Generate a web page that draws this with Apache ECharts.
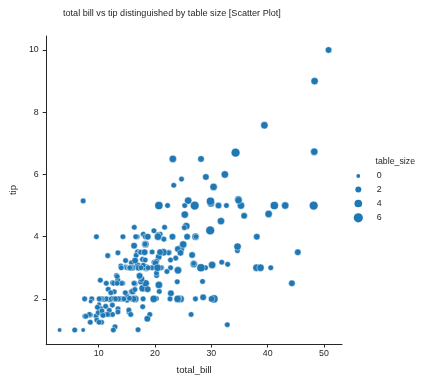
<!DOCTYPE html>
<html>
<head>
<meta charset="utf-8">
<script src="https://cdn.jsdelivr.net/npm/echarts@6/dist/echarts.min.js"></script>
<style>
html,body{margin:0;padding:0;background:#fff;}
#chart{width:430px;height:381px;}
</style>
</head>
<body>
<div id="chart"></div>
<script>
const totalBill = [16.99,10.34,21.01,23.68,24.59,25.29,8.77,26.88,15.04,14.78,10.27,35.26,15.42,18.43,14.83,21.58,10.33,16.29,16.97,20.65,17.92,20.29,15.77,39.42,19.82,17.81,13.37,12.69,21.70,19.65,9.55,18.35,15.06,20.69,17.78,24.06,16.31,16.93,18.69,31.27,16.04,17.46,13.94,9.68,30.40,18.29,22.23,32.40,28.55,18.04,12.54,10.29,34.81,9.94,25.56,19.49,38.01,26.41,11.24,48.27,20.29,13.81,11.02,18.29,17.59,20.08,16.45,3.07,20.23,15.01,12.02,17.07,26.86,25.28,14.73,10.51,17.92,27.20,22.76,17.29,19.44,16.66,10.07,32.68,15.98,34.83,13.03,18.28,24.71,21.16,28.97,22.49,5.75,16.32,22.75,40.17,27.28,12.03,21.01,12.46,11.35,15.38,44.30,22.42,20.92,15.36,20.49,25.21,18.24,14.31,14.00,7.25,38.07,23.95,25.71,17.31,29.93,10.65,12.43,24.08,11.69,13.42,14.26,15.95,12.48,29.80,8.52,14.52,11.38,22.82,19.08,20.27,11.17,12.26,18.26,8.51,10.33,14.15,16.00,13.16,17.47,34.30,41.19,27.05,16.43,8.35,18.64,11.87,9.78,7.51,14.07,13.13,17.26,24.55,19.77,29.85,48.17,25.00,13.39,16.49,21.50,12.66,16.21,13.81,17.51,24.52,20.76,31.71,10.59,10.63,50.81,15.81,7.25,31.85,16.82,32.90,17.89,14.48,9.60,34.63,34.65,23.33,45.35,23.17,40.55,20.69,20.90,30.46,18.15,23.10,15.69,19.81,28.44,15.48,16.58,7.56,10.34,43.11,13.00,13.51,18.71,12.74,13.00,16.40,20.53,16.47,26.59,38.73,24.27,12.76,30.06,25.89,48.33,13.27,28.17,12.90,28.15,11.59,7.74,30.14,12.16,13.42,8.58,15.98,13.42,16.27,10.09,20.45,13.28,22.12,24.01,15.69,11.61,10.77,15.53,10.07,12.60,32.83,35.83,29.03,27.18,22.67,17.82,18.78];
const tipValues = [1.01,1.66,3.50,3.31,3.61,4.71,2.00,3.12,1.96,3.23,1.71,5.00,1.57,3.00,3.02,3.92,1.67,3.71,3.50,3.35,4.08,2.75,2.23,7.58,3.18,2.34,2.00,2.00,4.30,3.00,1.45,2.50,3.00,2.45,3.27,3.60,2.00,3.07,2.31,5.00,2.24,2.54,3.06,1.32,5.60,3.00,5.00,6.00,2.05,3.00,2.50,2.60,5.20,1.56,4.34,3.51,3.00,1.50,1.76,6.73,3.21,2.00,1.98,3.76,2.64,3.15,2.47,1.00,2.01,2.09,1.97,3.00,3.14,5.00,2.20,1.25,3.08,4.00,3.00,2.71,3.00,3.40,1.83,5.00,2.03,5.17,2.00,4.00,5.85,3.00,3.00,3.50,1.00,4.30,3.25,4.73,4.00,1.50,3.00,1.50,2.50,3.00,2.50,3.48,4.08,1.64,4.06,4.29,3.76,4.00,3.00,1.00,4.00,2.55,4.00,3.50,5.07,1.50,1.80,2.92,2.31,1.68,2.50,2.00,2.52,4.20,1.48,2.00,2.00,2.18,1.50,2.83,1.50,2.00,3.25,1.25,2.00,2.00,2.00,2.75,3.50,6.70,5.00,5.00,2.30,1.50,1.36,1.63,1.73,2.00,2.50,2.00,2.74,2.00,2.00,5.14,5.00,3.75,2.61,2.00,3.50,2.50,2.00,2.00,3.00,3.48,2.24,4.50,1.61,2.00,10.00,3.16,5.15,3.18,4.00,3.11,2.00,2.00,4.00,3.55,3.68,5.65,3.50,6.50,3.00,5.00,3.50,2.00,3.50,4.00,1.50,4.19,2.56,2.02,4.00,1.44,2.00,5.00,2.00,2.00,4.00,2.01,2.00,2.50,4.00,3.23,3.41,3.00,2.03,2.23,2.00,5.16,9.00,2.50,6.50,1.10,3.00,1.50,1.44,3.09,2.20,3.48,1.92,3.00,1.58,2.50,2.00,3.00,2.72,2.88,2.00,3.00,3.39,1.47,3.00,1.25,1.00,1.17,4.67,5.92,2.00,2.00,1.75,3.00];
const tableSize = [2,3,3,2,4,4,2,4,2,2,2,4,2,4,2,2,3,3,3,3,2,2,2,4,2,4,2,2,2,2,2,4,2,4,2,3,3,3,3,3,3,2,2,2,4,2,2,4,3,2,2,2,4,2,4,2,4,2,2,4,2,2,2,4,3,3,2,1,2,2,2,3,2,2,2,2,2,4,2,2,2,2,1,2,2,4,2,2,2,2,2,2,2,2,2,4,2,2,2,2,2,2,3,2,2,2,2,2,2,2,2,1,3,2,3,2,4,2,2,4,2,2,2,2,2,6,2,2,2,3,2,2,2,2,2,2,2,2,2,2,2,6,5,6,2,2,3,2,2,2,2,2,3,4,4,5,6,4,2,4,4,2,3,2,2,3,2,4,2,2,3,2,2,2,2,2,2,2,2,2,4,2,3,4,2,5,3,5,3,3,2,2,2,2,2,2,2,4,2,2,3,2,2,2,4,3,3,4,2,2,3,4,4,2,3,2,5,2,2,4,2,2,1,3,2,2,2,4,2,2,4,3,2,2,2,2,2,2,3,3,2,2,2,2];
const xTicks = [10,20,30,40,50];
const yTicks = [2,4,6,8,10];
const legendSizes = ['0','2','4','6'];

const BLUE = '#1f77b4';
const INK = '#262626';
const FONT = '"Liberation Sans", Arial, sans-serif';
const D1 = 4.4; // diameter of smallest table size
function diam(s){ const f = 1 + 3*(s-1)/5; return D1*Math.sqrt(Math.max(f,0.05)); }

const points = totalBill.map((b,i)=>[b, tipValues[i], tableSize[i]]);

const legendCenters = [176, 189.5, 203.5, 217.8];
const legendIconD = [3.8, 6.0, 7.7, 9.2];
const iconCx = 358.3, textX = 376.7;

const legends = legendSizes.map((name,i)=>{
  const d = legendIconD[i];
  const left = iconCx - d/2;
  const padL = textX - (left + d + 5);
  return {
    data:[name],
    left: left,
    top: legendCenters[i] - 6,
    padding: 0,
    itemWidth: d,
    itemHeight: d,
    itemGap: 0,
    icon: 'circle',
    selectedMode: false,
    itemStyle:{color:BLUE, opacity:1, borderWidth:0},
    textStyle:{fontFamily:FONT, fontSize:8.8, color:INK, padding:[0,0,0,padL], lineHeight:12}
  };
});

const legendSeries = legendSizes.map(name=>({
  type:'scatter', name:name, data:[], itemStyle:{color:BLUE, opacity:1}
}));

const chart = echarts.init(document.getElementById('chart'), null, {renderer:'canvas'});
chart.setOption({
  animation:false,
  backgroundColor:'#fff',
  title:[
    {text:'total bill vs tip distinguished by table size [Scatter Plot]', left:63, top:8.5, padding:0,
     textStyle:{fontFamily:FONT, fontSize:9.1, fontWeight:'normal', color:INK}},
    {text:'table_size', left:375.5, top:157.5, padding:0,
     textStyle:{fontFamily:FONT, fontSize:8.8, fontWeight:'normal', color:INK}}
  ],
  legend: legends,
  grid:{left:39, right:88, top:36, bottom:37, containLabel:false},
  xAxis:{
    type:'value', min:0.683, max:53.197,
    name:'total_bill', nameLocation:'middle', nameGap:21,
    nameTextStyle:{fontFamily:FONT, fontSize:9.6, color:INK},
    axisLine:{show:true, lineStyle:{color:INK, width:1}},
    axisTick:{show:true, length:3.5, customValues:xTicks, lineStyle:{color:INK, width:1}},
    axisLabel:{customValues:xTicks, margin:5.5, fontFamily:FONT, fontSize:8.8, color:INK},
    splitLine:{show:false}
  },
  yAxis:{
    type:'value', min:0.55, max:10.45,
    name:'tip', nameLocation:'middle', nameGap:21.5, nameRotate:90,
    nameTextStyle:{fontFamily:FONT, fontSize:9.6, color:INK},
    axisLine:{show:true, lineStyle:{color:INK, width:1}},
    axisTick:{show:true, length:3.5, customValues:yTicks, lineStyle:{color:INK, width:1}},
    axisLabel:{customValues:yTicks, margin:7.5, fontFamily:FONT, fontSize:8.8, color:INK},
    splitLine:{show:false}
  },
  series:[{
    type:'scatter',
    name:'tips',
    data: points,
    symbol:'circle',
    symbolSize: v => diam(v[2]),
    itemStyle:{color:BLUE, opacity:1, borderColor:'#ffffff', borderWidth:0.45},
    emphasis:{disabled:true}
  }].concat(legendSeries)
});
</script>
</body>
</html>
